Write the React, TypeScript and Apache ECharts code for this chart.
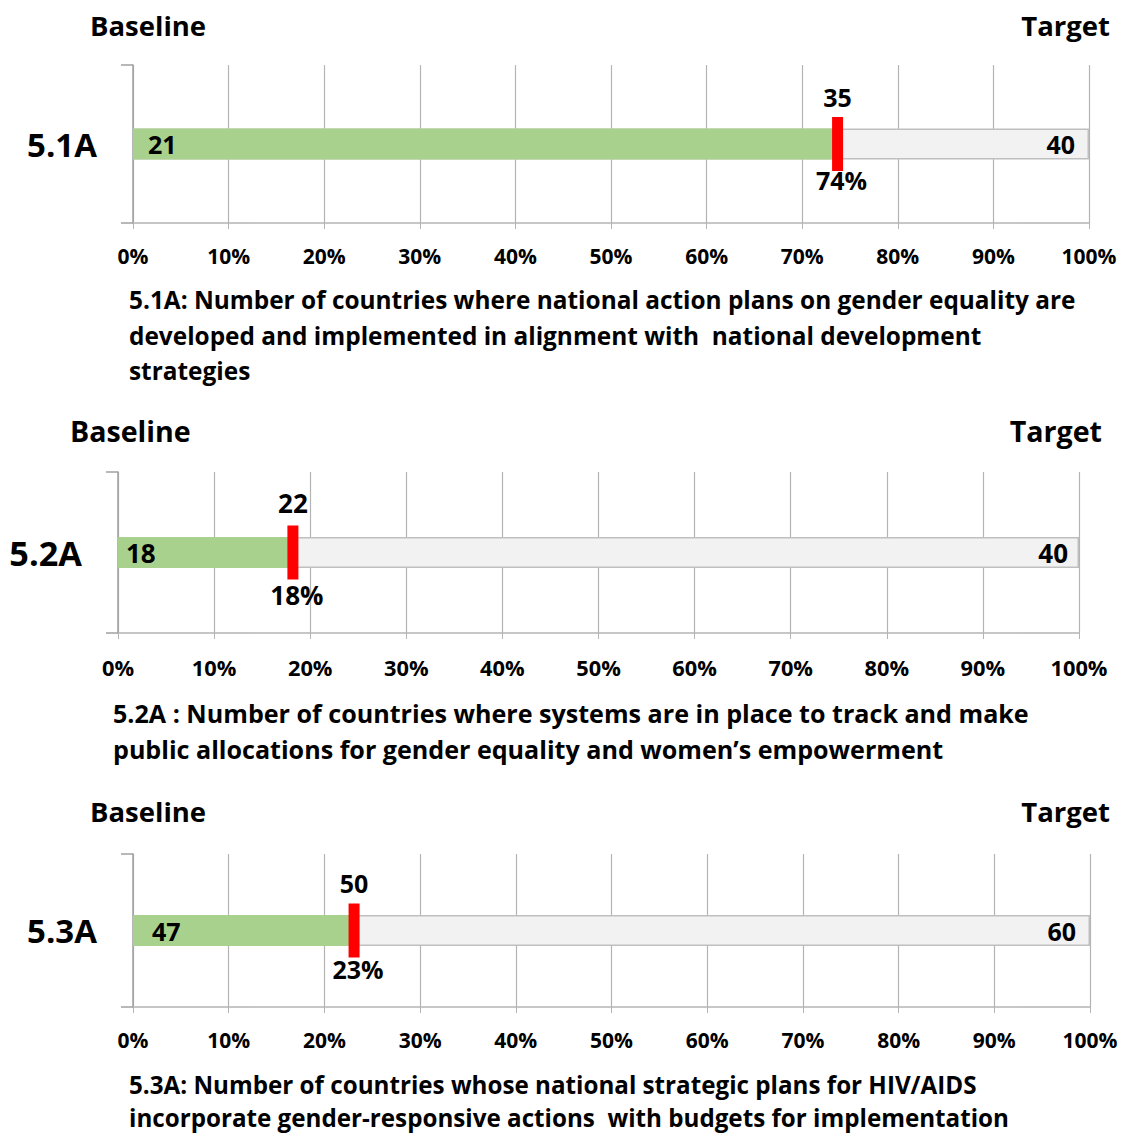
import React, { useEffect, useRef } from "react";
import * as echarts from "echarts";

const indicators = ["5.1A", "5.2A", "5.3A"];
const baselineValues = [21, 18, 47];
const currentValues = [35, 22, 50];
const targetValues = [40, 40, 60];
const progressPct = [73.7, 18.2, 23.1];
const progressLabels = ["74%", "18%", "23%"];
const captions = [
  [
    "5.1A: Number of countries where national action plans on gender equality are",
    "developed and implemented in alignment with  national development",
    "strategies",
  ],
  [
    "5.2A : Number of countries where systems are in place to track and make",
    "public allocations for gender equality and women\u2019s empowerment",
  ],
  [
    "5.3A: Number of countries whose national strategic plans for HIV/AIDS",
    "incorporate gender-responsive actions  with budgets for implementation",
  ],
];

// layout (positions and sizes only)
const grids = [
  { left: 133, right: 33, top: 65, height: 158, headY: 25, baseX: 90, targX: 1110, capX: 129, capY: [299, 335, 370], fs: 1, capFs: 24.4, topDist: 8, botDist: -4, tickMargin: 22, inL: 15, inR: 14 },
  { left: 118, right: 43, top: 472, height: 161, headY: 430, baseX: 70, targX: 1102, capX: 113, capY: [713, 749], fs: 1.04, capFs: 25.1, topDist: 10, botDist: 2, tickMargin: 23, inL: 8, inR: 11 },
  { left: 133, right: 32, top: 854, height: 153, headY: 811, baseX: 90, targX: 1110, capX: 129, capY: [1084, 1117], fs: 1, capFs: 24.2, topDist: 8, botDist: -1, tickMargin: 22, inL: 19, inR: 14 },
];

const FONT = "'Open Sans'";
const GRID_C = "#b4b4b4";

export default function App() {
  const ref = useRef<HTMLDivElement>(null);
  useEffect(() => {
    document.body.style.margin = "0";
    const chart = echarts.init(ref.current!, null, { renderer: "svg" });
    const grid: any[] = [];
    const xAxis: any[] = [];
    const yAxis: any[] = [];
    const series: any[] = [];
    const graphic: any[] = [];
    indicators.forEach((ind, i) => {
      const g = grids[i];
      const s = (n: number) => Math.round(n * g.fs * 10) / 10;
      const lbl = (size: number) => ({ fontFamily: FONT, fontWeight: "bold", fontSize: s(size), color: "#000" });
      grid.push({ left: g.left, right: g.right, top: g.top, height: g.height, containLabel: false });
      xAxis.push({
        type: "value",
        gridIndex: i,
        min: 0,
        max: 100,
        interval: 10,
        axisLine: { show: true, lineStyle: { color: GRID_C, width: 1.5 } },
        axisTick: { show: true, length: 6, lineStyle: { color: GRID_C } },
        splitLine: { show: true, lineStyle: { color: GRID_C, width: 1.2 } },
        axisLabel: { formatter: "{value}%", margin: g.tickMargin, ...lbl(21) },
      });
      yAxis.push({
        type: "category",
        gridIndex: i,
        data: [ind],
        axisLine: { show: true, lineStyle: { color: "#a0a0a0", width: 1.5 } },
        axisTick: { show: true, length: 12, lineStyle: { color: "#a0a0a0", width: 1.5 } },
        axisLabel: { margin: 36, ...lbl(33) },
      });
      series.push({
        type: "bar",
        xAxisIndex: i,
        yAxisIndex: i,
        data: [100],
        barWidth: 31,
        barGap: "-100%",
        itemStyle: { color: "#f2f2f2", borderColor: "#bfbfbf", borderWidth: 1.5 },
        label: { show: true, position: "insideRight", distance: g.inR, formatter: String(targetValues[i]), ...lbl(25) },
        z: 2,
      });
      series.push({
        type: "bar",
        xAxisIndex: i,
        yAxisIndex: i,
        data: [progressPct[i]],
        barWidth: 31,
        barGap: "-100%",
        itemStyle: { color: "#a9d18e" },
        label: { show: true, position: "insideLeft", distance: g.inL, formatter: String(baselineValues[i]), ...lbl(25) },
        z: 3,
      });
      series.push({
        type: "scatter",
        xAxisIndex: i,
        yAxisIndex: i,
        data: [[progressPct[i], ind]],
        symbol: "rect",
        symbolSize: [11, 54],
        itemStyle: { color: "#ff0000", opacity: 1 },
        label: { show: true, position: "top", distance: g.topDist, formatter: String(currentValues[i]), ...lbl(25) },
        z: 5,
      });
      series.push({
        type: "scatter",
        xAxisIndex: i,
        yAxisIndex: i,
        data: [[progressPct[i], ind]],
        symbol: "rect",
        symbolSize: [11, 54],
        itemStyle: { color: "rgba(255,255,255,0)", opacity: 1 },
        label: { show: true, position: "bottom", distance: g.botDist, offset: [4, 0], formatter: progressLabels[i], ...lbl(25) },
        z: 6,
      });
      graphic.push({
        type: "text",
        x: g.baseX,
        y: g.headY,
        style: { text: "Baseline", font: `bold ${s(27.5)}px ${FONT}`, fill: "#000", align: "left", verticalAlign: "middle" },
      });
      graphic.push({
        type: "text",
        x: g.targX,
        y: g.headY,
        style: { text: "Target", font: `bold ${s(27.5)}px ${FONT}`, fill: "#000", align: "right", verticalAlign: "middle" },
      });
      captions[i].forEach((line, k) => {
        graphic.push({
          type: "text",
          x: g.capX,
          y: g.capY[k],
          style: { text: line, font: `bold ${g.capFs}px ${FONT}`, fill: "#000", align: "left", verticalAlign: "middle" },
        });
      });
    });
    chart.setOption({
      animation: false,
      backgroundColor: "#fff",
      grid,
      xAxis,
      yAxis,
      series,
      graphic,
    });
    return () => chart.dispose();
  }, []);
  return <div ref={ref} style={{ width: 1122, height: 1134 }} />;
}
